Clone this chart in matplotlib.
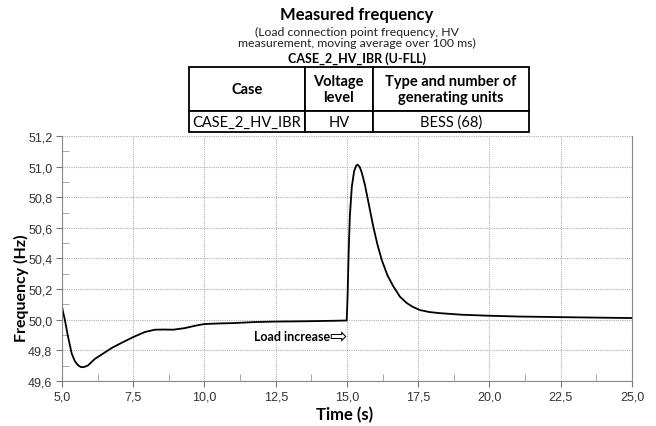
import matplotlib.pyplot as plt
from matplotlib.table import Table
from matplotlib.ticker import MultipleLocator, FuncFormatter

# frequency trace at the load connection point (100 ms moving average)
time_s = [5.0, 5.05, 5.1, 5.2, 5.34, 5.45, 5.55, 5.65, 5.75, 5.9, 6.16, 6.45,
          6.74, 7.1, 7.5, 7.91, 8.26, 8.6, 8.9, 9.3, 9.7, 10.0, 10.54, 11.0,
          11.77, 12.5, 13.5, 14.5, 14.99, 15.02, 15.06, 15.1, 15.17, 15.25,
          15.32, 15.37, 15.44, 15.52, 15.63, 15.77, 15.92, 16.07, 16.22,
          16.42, 16.62, 16.86, 17.09, 17.3, 17.56, 17.9, 18.26, 19.0, 20.0,
          21.0, 22.47, 25.0]
freq_hz = [50.085, 50.04, 50.0, 49.9, 49.78, 49.73, 49.705, 49.692, 49.69,
           49.70, 49.745, 49.78, 49.815, 49.85, 49.887, 49.92, 49.935, 49.936,
           49.935, 49.945, 49.962, 49.972, 49.976, 49.978, 49.985, 49.988,
           49.99, 49.993, 49.995, 50.15, 50.45, 50.675, 50.87, 50.97, 51.005,
           51.013, 51.0, 50.96, 50.88, 50.75, 50.61, 50.49, 50.39, 50.29,
           50.22, 50.15, 50.11, 50.085, 50.063, 50.05, 50.043, 50.033, 50.026,
           50.021, 50.017, 50.011]

table_header = ["Case", "Voltage\nlevel", "Type and number of\ngenerating units"]
table_row = ["CASE_2_HV_IBR", "HV", "BESS (68)"]

title_font = ["Lato", "DejaVu Sans"]
tick_font = ["Liberation Sans", "DejaVu Sans"]

fig = plt.figure(figsize=(6.56, 4.27), dpi=100)
ax = fig.add_axes([0.0945, 0.1054, 0.8689, 0.5738])

ax.plot(time_s, freq_hz, color="black", lw=1.3)

ax.set_xlim(5, 25)
ax.set_ylim(49.6, 51.2)
ax.xaxis.set_major_locator(MultipleLocator(2.5))
ax.xaxis.set_minor_locator(MultipleLocator(1.25))
ax.yaxis.set_major_locator(MultipleLocator(0.2))
ax.yaxis.set_minor_locator(MultipleLocator(0.1))
comma = FuncFormatter(lambda v, _: f"{v:.1f}".replace(".", ","))
ax.xaxis.set_major_formatter(comma)
ax.yaxis.set_major_formatter(comma)

ax.grid(True, which="major", color="#b0b0b0", ls=(0, (1, 1)), lw=0.8)
ax.tick_params(which="major", direction="out", length=4, color="#777777",
               labelsize=9, labelcolor="#333333", pad=3)
ax.tick_params(which="minor", direction="in", length=5, color="#999999")
for lbl in ax.get_xticklabels() + ax.get_yticklabels():
    lbl.set_family(tick_font)
ax.spines["top"].set_visible(False)
for side in ("left", "bottom", "right"):
    ax.spines[side].set_color("#888888")

ax.set_xlabel("Time (s)", family=title_font, fontweight="bold", fontsize=12,
              va="center")
ax.xaxis.set_label_coords(0.495, -0.135)
ax.set_ylabel("Frequency (Hz)", family=title_font, fontweight="bold",
              fontsize=11.5, va="center")
ax.yaxis.set_label_coords(-0.071, 0.384)

ax.text(14.42, 49.893, "Load increase", ha="right", va="center",
        family=title_font, fontweight="bold", fontsize=9)
ax.text(14.38, 49.893, "\u21e8", ha="left", va="center",
        family=["DejaVu Sans"], fontsize=15)

# header block
fig.text(0.544, 0.965, "Measured frequency", ha="center", va="center",
         family=title_font, fontweight="bold", fontsize=12)
fig.text(0.544, 0.912, "(Load connection point frequency, HV\n"
         "measurement, moving average over 100 ms)", ha="center",
         va="center", family=title_font, fontsize=8.8, linespacing=1.0,
         color="#222222")
fig.text(0.544, 0.862, "CASE_2_HV_IBR (U-FLL)", ha="center", va="center",
         family=title_font, fontweight="bold", fontsize=9)

tax = fig.add_axes([0.288, 0.6885, 0.518, 0.1522])
tax.set_axis_off()
tbl = Table(tax, bbox=[0, 0, 1, 1])
col_w = [0.341, 0.2, 0.459]
for j, (head, val) in enumerate(zip(table_header, table_row)):
    hc = tbl.add_cell(0, j, col_w[j], 0.677, text=head, loc="center")
    hc.get_text().set_fontweight("bold")
    hc.get_text().set_fontsize(10.5)
    hc.get_text().set_linespacing(1.25)
    dc = tbl.add_cell(1, j, col_w[j], 0.323, text=val, loc="center")
    dc.get_text().set_fontsize(10.5)
    for c in (hc, dc):
        c.get_text().set_family(title_font)
        c.set_linewidth(1.3)
        c.set_edgecolor("black")
tbl.auto_set_font_size(False)
tax.add_table(tbl)

fig.savefig("out.png", dpi=100)
